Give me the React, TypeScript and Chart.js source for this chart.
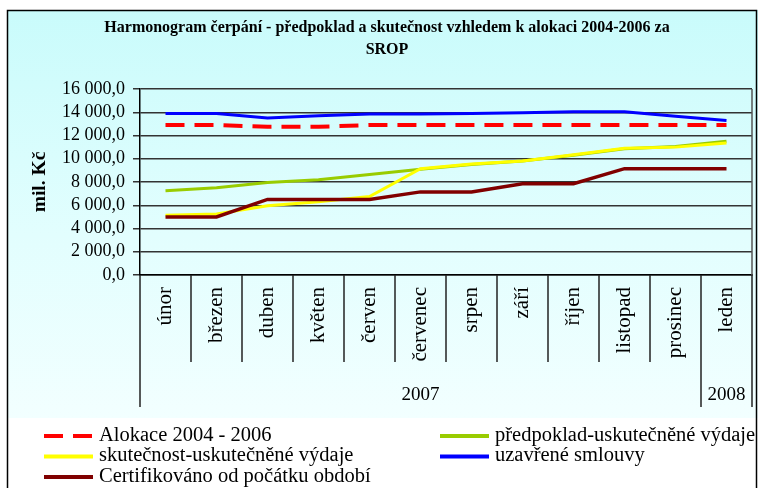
import React, { useEffect, useRef } from "react";
import { Chart, registerables } from "chart.js";

Chart.register(...registerables);

// ---- Data ----
const categories = [
  "únor", "březen", "duben", "květen", "červen", "červenec",
  "srpen", "září", "říjen", "listopad", "prosinec", "leden",
];
const yearLabels = ["2007", "2008"];
const yearSpans = [11, 1]; // number of months in each year group

const seriesNames = [
  "Alokace 2004 - 2006",
  "předpoklad-uskutečněné výdaje",
  "skutečnost-uskutečněné výdaje",
  "uzavřené smlouvy",
  "Certifikováno od počátku období",
];
const alokace = [12900, 12900, 12750, 12750, 12900, 12900, 12900, 12900, 12900, 12900, 12900, 12900];
const predpoklad = [7250, 7500, 7950, 8200, 8650, 9100, 9500, 9800, 10300, 10850, 11050, 11500];
const skutecnost = [5150, 5250, 5950, 6300, 6750, 9150, 9550, 9800, 10350, 10900, 11000, 11350];
const smlouvy = [13900, 13900, 13500, 13700, 13850, 13850, 13900, 13950, 14050, 14050, 13650, 13300];
const certifikovano = [5000, 5000, 6500, 6500, 6500, 7150, 7150, 7850, 7850, 9150, 9150, 9150];

const titleLines = [
  "Harmonogram čerpání - předpoklad a skutečnost vzhledem k alokaci 2004-2006 za",
  "SROP",
];
const yTitle = "mil. Kč";

const SERIF = "'Liberation Serif', 'Times New Roman', serif";

const fmt = (v: number) =>
  Math.round(v).toString().replace(/\B(?=(\d{3})+(?!\d))/g, " ") + ",0";

const decorPlugin = {
  id: "decor",
  beforeDraw(chart: any) {
    const ctx = chart.ctx;
    const W = chart.width;
    const H = chart.height;
    ctx.save();
    ctx.fillStyle = "#ffffff";
    ctx.fillRect(0, 0, W, H);
    const g = ctx.createLinearGradient(0, 10, 0, 418);
    g.addColorStop(0, "#c9fbfb");
    g.addColorStop(0.55, "#e2fefe");
    g.addColorStop(1, "#f2ffff");
    ctx.fillStyle = g;
    ctx.fillRect(7, 10, W - 7, 408);
    ctx.strokeStyle = "#000";
    ctx.lineWidth = 1.5;
    ctx.strokeRect(7.5, 10.5, W - 9, H + 20);

    // title
    ctx.fillStyle = "#000";
    ctx.textAlign = "center";
    ctx.textBaseline = "alphabetic";
    ctx.font = `bold 16px ${SERIF}`;
    ctx.fillText(titleLines[0], 387, 31.5);
    ctx.fillText(titleLines[1], 387, 53.5);

    // y title
    ctx.save();
    ctx.translate(40, 182);
    ctx.rotate(-Math.PI / 2);
    ctx.font = `bold 19.5px ${SERIF}`;
    ctx.textBaseline = "middle";
    ctx.fillText(yTitle, 0, 0);
    ctx.restore();
    ctx.restore();
  },
  afterDraw(chart: any) {
    const ctx = chart.ctx;
    const area = chart.chartArea;
    const xs = chart.scales.x;
    const n = categories.length;
    const centers = categories.map((_, i) => xs.getPixelForValue(i));
    const bounds: number[] = [];
    for (let i = 0; i <= n; i++) {
      if (i === 0) bounds.push(area.left);
      else if (i === n) bounds.push(area.right);
      else bounds.push((centers[i - 1] + centers[i]) / 2);
    }
    const yearBoundIdx = new Set<number>([0]);
    let acc = 0;
    yearSpans.forEach((s) => {
      acc += s;
      yearBoundIdx.add(acc);
    });
    ctx.save();
    // right border of plot
    ctx.strokeStyle = "#555";
    ctx.lineWidth = 1.5;
    ctx.beginPath();
    ctx.moveTo(area.right, area.top);
    ctx.lineTo(area.right, area.bottom);
    ctx.stroke();

    ctx.strokeStyle = "#222";
    ctx.lineWidth = 1.5;
    bounds.forEach((b, i) => {
      const long = yearBoundIdx.has(i);
      ctx.beginPath();
      ctx.moveTo(b, area.bottom);
      ctx.lineTo(b, area.bottom + (long ? 132 : 87));
      ctx.stroke();
    });
    // year labels
    ctx.fillStyle = "#000";
    ctx.font = `19px ${SERIF}`;
    ctx.textAlign = "center";
    ctx.textBaseline = "alphabetic";
    let start = 0;
    yearLabels.forEach((lab, k) => {
      const end = start + yearSpans[k];
      const cx = (bounds[start] + bounds[end]) / 2;
      ctx.fillText(lab, cx, 400);
      start = end;
    });

    // legend
    const ds = chart.data.datasets;
    const cols = [44, 440];
    const rows = [436, 456.5, 477];
    ctx.font = `20.5px ${SERIF}`;
    ctx.textAlign = "left";
    ctx.textBaseline = "middle";
    ds.forEach((d: any, i: number) => {
      const col = cols[i % 2];
      const y = rows[Math.floor(i / 2)];
      ctx.save();
      ctx.strokeStyle = d.borderColor;
      ctx.lineWidth = 4;
      ctx.setLineDash(d.borderDash && d.borderDash.length ? [19, 10] : []);
      ctx.beginPath();
      ctx.moveTo(col, y);
      ctx.lineTo(col + 49, y);
      ctx.stroke();
      ctx.restore();
      ctx.fillStyle = "#000";
      ctx.fillText(d.label, col + 55, y - 0.5);
    });
    ctx.restore();
  },
};

export default function App() {
  const ref = useRef<HTMLCanvasElement | null>(null);
  useEffect(() => {
    if (!ref.current) return;
    const mk = (label: string, data: number[], color: string, width: number, order: number, dash: number[] = []) => ({
      label,
      data,
      borderColor: color,
      backgroundColor: color,
      borderWidth: width,
      borderDash: dash,
      pointRadius: 0,
      tension: 0,
      fill: false,
      order,
    });
    const chart = new Chart(ref.current, {
      type: "line",
      data: {
        labels: categories,
        datasets: [
          mk(seriesNames[0], alokace, "#ff0000", 4, 4, [19, 10]),
          mk(seriesNames[1], predpoklad, "#99cc00", 3, 3),
          mk(seriesNames[2], skutecnost, "#ffff00", 3, 2),
          mk(seriesNames[3], smlouvy, "#0000ff", 3, 1),
          mk(seriesNames[4], certifikovano, "#800000", 3.5, 0),
        ],
      },
      options: {
        animation: false,
        responsive: false,
        layout: { padding: { left: 10, right: 6, top: 89, bottom: 0 } },
        plugins: {
          legend: { display: false },
          title: { display: false },
          tooltip: { enabled: false },
        },
        scales: {
          x: {
            type: "category",
            offset: true,
            grid: { display: false },
            border: { display: true, color: "#000", width: 1.5 },
            ticks: {
              autoSkip: false,
              minRotation: 90,
              maxRotation: 90,
              padding: 4,
              color: "#000",
              font: { family: SERIF, size: 21 },
            },
            afterFit: (s: any) => {
              s.height = 213;
            },
          },
          y: {
            min: 0,
            max: 16000,
            ticks: {
              stepSize: 2000,
              autoSkip: false,
              padding: 8,
              color: "#000",
              font: { family: SERIF, size: 18 },
              callback: (v: any) => fmt(Number(v)),
            },
            grid: { color: "#333", lineWidth: 1.5, tickLength: 7, drawTicks: true },
            border: { display: true, color: "#000", width: 1.5 },
            afterFit: (s: any) => {
              s.width = 130;
            },
          },
        },
      } as any,
      plugins: [decorPlugin],
    });
    return () => chart.destroy();
  }, []);
  return (
    <div style={{ position: "absolute", left: 0, top: 0, width: 758, height: 488 }}>
      <canvas ref={ref} width={758} height={488} style={{ width: 758, height: 488, display: "block" }} />
    </div>
  );
}
